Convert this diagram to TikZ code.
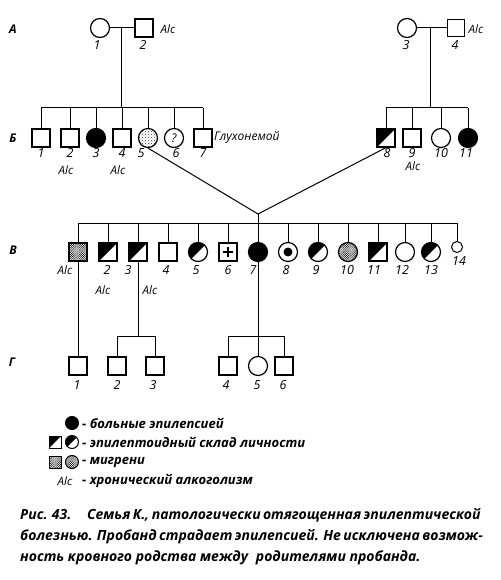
\documentclass[tikz,border=0pt]{standalone}
\usepackage{fontspec}
\setmainfont{Open Sans}
\usetikzlibrary{patterns}
\pgfdeclarepatternformonly{densedots}{\pgfqpoint{-0.5pt}{-0.5pt}}{\pgfqpoint{2.5pt}{2.5pt}}{\pgfqpoint{2.2pt}{2.2pt}}{%
  \pgfpathcircle{\pgfqpoint{0pt}{0pt}}{0.6pt}
  \pgfpathcircle{\pgfqpoint{1.1pt}{1.1pt}}{0.6pt}
  \pgfusepath{fill}}
\pgfdeclarepatternformonly{lightdots}{\pgfqpoint{-0.5pt}{-0.5pt}}{\pgfqpoint{3.5pt}{3.5pt}}{\pgfqpoint{3pt}{3pt}}{%
  \pgfpathcircle{\pgfqpoint{0pt}{0pt}}{0.45pt}
  \pgfpathcircle{\pgfqpoint{1.5pt}{1.5pt}}{0.45pt}
  \pgfusepath{fill}}
\begin{document}
\begin{tikzpicture}[x=1pt,y=-1pt,
  sym/.style={draw, line width=1.2pt, inner sep=0pt, fill=white},
  male/.style={sym, rectangle, minimum size=18pt},
  fem/.style={sym, circle, minimum size=19pt},
  halfblk/.style={path picture={\fill[black] (path picture bounding box.north west) -- (path picture bounding box.north east) -- (path picture bounding box.south west) -- cycle;}},
  full/.style={fill=black},
  stip/.style={pattern=densedots},
  lstip/.style={pattern=lightdots},
  plus/.style={path picture={\draw[black,line width=1.8pt] ([xshift=-5pt]path picture bounding box.center) -- ([xshift=5pt]path picture bounding box.center) ([yshift=-5pt]path picture bounding box.center) -- ([yshift=5pt]path picture bounding box.center);}},
  innerdot/.style={path picture={\fill[black] (path picture bounding box.center) circle (4.5pt);}},
  conn/.style={line width=1pt},
  num/.style={font=\itshape\fontsize{12.5}{12.5}\selectfont, inner sep=0pt},
  alc/.style={font=\itshape\fontsize{11.5}{11.5}\selectfont, inner sep=0pt},
  gen/.style={font=\bfseries\itshape\fontsize{12}{12}\selectfont, inner sep=0pt},
  leg/.style={font=\bfseries\itshape\fontsize{13}{13}\selectfont, inner sep=0pt, anchor=west},
  captxt/.style={font=\bfseries\itshape\fontsize{14}{16}\selectfont, inner sep=0pt, anchor=west},
  lsym/.style={draw, line width=1pt, inner sep=0pt, fill=white},
  lmale/.style={lsym, rectangle, minimum size=12pt},
  lfem/.style={lsym, circle, minimum size=13pt}
]
\useasboundingbox (0,0) rectangle (500,580);

% generation letters
\node[gen] (gA) at (13,29) {А};
\node[gen] (gB) at (13,138) {Б};
\node[gen] (gC) at (13,250) {В};
\node[gen] (gD) at (12,362) {Г};

% ---------- generation A ----------
\node[fem] (a1) at (100,28) {};
\node[male] (a2) at (144,28) {};
\node[fem] (a3) at (407,28) {};
\node[male,minimum size=17pt] (a4) at (456,28) {};
\node[num] (a1l) at (97,45) {1};
\node[num] (a2l) at (143,45) {2};
\node[num] (a3l) at (406,45) {3};
\node[num] (a4l) at (455,45) {4};
\node[alc] (a2a) at (168,29) {Alc};
\node[alc] (a4a) at (476,29) {Alc};
\coordinate (mA) at (121,28);
\coordinate (mB) at (430,28);
\coordinate (sibL) at (121,108);
\coordinate (sibR) at (430,108);
\draw[conn] (a1) -- (a2);
\draw[conn] (a3) -- (a4);
\draw[conn] (mA) -- (sibL);
\draw[conn] (mB) -- (sibR);

% ---------- generation B ----------
\node[male] (b1) at (41,138) {};
\node[male] (b2) at (70,138) {};
\node[fem,full] (b3) at (96,138) {};
\node[male] (b4) at (122,138) {};
\node[fem,lstip] (b5) at (148,138) {};
\node[fem,font=\itshape\fontsize{12}{12}\selectfont] (b6) at (174,138) {?};
\node[male] (b7) at (203,138) {};
\node[male,halfblk] (b8) at (386,138) {};
\node[male] (b9) at (412,138) {};
\node[fem] (b10) at (441,138) {};
\node[fem,full] (b11) at (468,138) {};
\foreach \n/\x in {1/41,2/70,3/96,4/122,5/141,6/176,7/203,8/387,9/412,10/441,11/466}
  \node[num] (b\n l) at (\x,153) {\n};
\node[alc] (b2a) at (66,170) {Alc};
\node[alc] (b4a) at (118,170) {Alc};
\node[alc] (b9a) at (413,166) {Alc};
\node[font=\itshape\fontsize{12}{12}\selectfont, inner sep=0pt, anchor=west] (b7t) at (214,137) {Глухонемой};
\foreach \n in {b1,b2,b3,b4,b5,b6,b7}
  \draw[conn] (\n.north) -- (\n.north |- sibL);
\draw[conn] (b1.north |- sibL) -- (b7.north |- sibL);
\foreach \n in {b8,b9,b10,b11}
  \draw[conn] (\n.north) -- (\n.north |- sibR);
\draw[conn] (b8.north |- sibR) -- (b11.north |- sibR);

% marriage of B5 and B8
\coordinate (conv) at (258,214);
\coordinate (sibC) at (258,223);
\draw[conn] (b5.south) -- (conv) -- (b8.south);
\draw[conn] (conv) -- (sibC);

% ---------- generation C ----------
\node[male,stip] (c1) at (78,252) {};
\node[male,halfblk] (c2) at (108,252) {};
\node[male,halfblk] (c3) at (138,252) {};
\node[male] (c4) at (168,252) {};
\node[fem,halfblk] (c5) at (198,252) {};
\node[male,plus] (c6) at (228,252) {};
\node[fem,full] (c7) at (258,252) {};
\node[fem,innerdot] (c8) at (288,252) {};
\node[fem,halfblk] (c9) at (318,252) {};
\node[fem,stip] (c10) at (348,252) {};
\node[male,halfblk] (c11) at (378,252) {};
\node[fem] (c12) at (405,252) {};
\node[fem,halfblk] (c13) at (431,252) {};
\node[fem,minimum size=11pt,line width=1pt] (c14) at (457,247) {};
\foreach \n/\x in {2/107,3/128,4/166,5/196,6/228,7/253,8/286,9/316,10/347,11/374,12/402,13/431}
  \node[num] (c\n l) at (\x,270) {\n};
\node[num] (c14l) at (459,261) {14};
\node[alc] (c1a) at (65,270) {Alc};
\node[alc] (c2a) at (103,290) {Alc};
\node[alc] (c3a) at (150,290) {Alc};
\foreach \n in {c1,c2,c3,c4,c5,c6,c7,c8,c9,c10,c11,c12,c13,c14}
  \draw[conn] (\n.north) -- (\n.north |- sibC);
\draw[conn] (c1.north |- sibC) -- (c14.north |- sibC);

% ---------- generation D ----------
\node[male] (d1) at (78,366) {};
\node[male] (d2) at (117,366) {};
\node[male] (d3) at (155,366) {};
\node[male] (d4) at (228,366) {};
\node[fem] (d5) at (258,366) {};
\node[male] (d6) at (284,366) {};
\foreach \n/\x in {1/77,2/117,3/153,4/226,5/257,6/283}
  \node[num] (d\n l) at (\x,385) {\n};
\coordinate (sibD1) at (138,336);
\coordinate (sibD2) at (258,336);
\draw[conn] (c1.south) -- (d1.north);
\draw[conn] (c3.south) -- (sibD1);
\draw[conn] (c7.south) -- (sibD2);
\draw[conn] (d2.north) -- (d2.north |- sibD1) -- (d3.north |- sibD1) -- (d3.north);
\draw[conn] (d4.north) -- (d4.north |- sibD2) -- (d6.north |- sibD2) -- (d6.north);
\draw[conn] (sibD2) -- (d5.north);

% ---------- legend ----------
\node[lfem,full] (l1) at (72,423) {};
\node[leg] (l1t) at (82,423) {- больные эпилепсией};
\node[lmale,halfblk] (l2a) at (55,442) {};
\node[lfem,halfblk] (l2b) at (72,442) {};
\node[leg] (l2t) at (82,442) {- эпилептоидный склад личности};
\node[lmale,stip] (l3a) at (55,462) {};
\node[lfem,stip] (l3b) at (72,462) {};
\node[leg] (l3t) at (82,462) {- мигрени};
\node[alc] (l4a) at (65,481) {Alc};
\node[leg] (l4t) at (82,481) {- хронический алкоголизм};

% ---------- caption ----------
\node[captxt] (cap1) at (20,515) {\makebox[460pt][s]{Рис. 43.\hspace{0.8em} Семья К., патологически отягощенная эпилептической}};
\node[captxt] (cap2) at (20,537) {\makebox[460pt][s]{болезнью. Пробанд страдает эпилепсией. Не исключена возмож-}};
\node[captxt] (cap3) at (20,558) {ность кровного родства между\hspace{0.3em} родителями пробанда.};
\end{tikzpicture}
\end{document}
